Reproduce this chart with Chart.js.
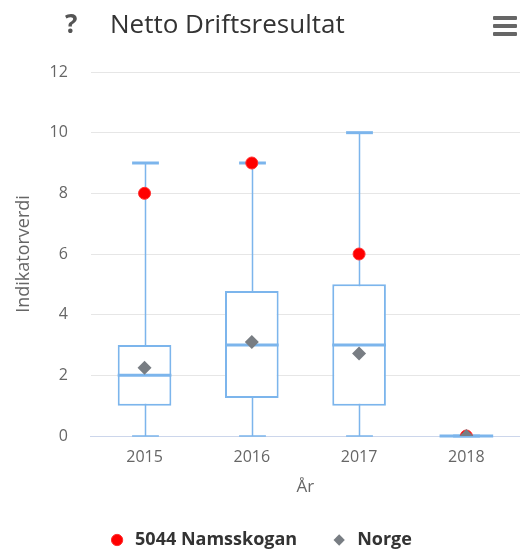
<!DOCTYPE html>
<html>
<head>
<meta charset="utf-8">
<title>Netto Driftsresultat</title>
<script src="https://cdn.jsdelivr.net/npm/chart.js@4.4.0/dist/chart.umd.min.js"></script>
<style>
  html, body { margin: 0; padding: 0; background: #fff; }
  #wrap { position: relative; width: 520px; height: 550px; font-family: 'Open Sans', sans-serif; }
  #chart { position: absolute; left: 0; top: 0; }
  .help { position: absolute; left: 65px; top: 10px; font-size: 26px; line-height: 26px; font-weight: bold; color: #555; }
  .title { position: absolute; left: 110px; top: 10px; font-size: 26px; line-height: 26px; color: #333; white-space: nowrap; }
  .menu { position: absolute; left: 493px; width: 24px; height: 4px; background: #666; border-radius: 1px; }
</style>
</head>
<body>
<div id="wrap">
  <canvas id="chart" width="520" height="550"></canvas>
  <div class="help">?</div>
  <div class="title">Netto Driftsresultat</div>
  <div class="menu" style="top:16px"></div>
  <div class="menu" style="top:24px"></div>
  <div class="menu" style="top:32px"></div>
</div>
<script>
const years = ['2015', '2016', '2017', '2018'];
const whiskerLow = [0, 0, 0, 0];
const quartileLow = [1, 1.25, 1, 0];
const medians = [2, 3, 3, 0];
const quartileHigh = [3, 4.78, 5, 0];
const whiskerHigh = [9, 9, 10, 0];
const namsskogan = [8, 9, 6, 0];
const norge = [2.25, 3.1, 2.72, 0];

const boxColor = '#7cb5ec';

// stems and caps go under the boxes, medians on top of them
const boxWhiskers = {
  id: 'boxWhiskers',
  beforeDatasetsDraw(chart) {
    const { ctx, scales: { x, y } } = chart;
    const bars = chart.getDatasetMeta(0).data;
    ctx.save();
    ctx.strokeStyle = boxColor;
    years.forEach((yr, i) => {
      const cx = Math.round(x.getPixelForValue(i)) + 0.5;
      const half = bars[i].width / 4;
      const lo = y.getPixelForValue(whiskerLow[i]);
      const hi = y.getPixelForValue(whiskerHigh[i]);
      ctx.lineWidth = 1.5;
      ctx.beginPath();
      ctx.moveTo(cx, lo);
      ctx.lineTo(cx, hi);
      ctx.moveTo(cx - half, lo);
      ctx.lineTo(cx + half, lo);
      ctx.stroke();
      ctx.lineWidth = 3;
      ctx.beginPath();
      ctx.moveTo(cx - half, hi);
      ctx.lineTo(cx + half, hi);
      ctx.stroke();
    });
    ctx.restore();
  },
  afterDatasetDraw(chart, args) {
    if (args.index !== 0) return;
    const { ctx, scales: { x, y } } = chart;
    const bars = chart.getDatasetMeta(0).data;
    ctx.save();
    ctx.strokeStyle = boxColor;
    ctx.lineWidth = 3;
    years.forEach((yr, i) => {
      const cx = x.getPixelForValue(i);
      const half = bars[i].width / 2;
      const my = y.getPixelForValue(medians[i]);
      ctx.beginPath();
      ctx.moveTo(cx - half, my);
      ctx.lineTo(cx + half, my);
      ctx.stroke();
    });
    ctx.restore();
  }
};

const tickFont = { family: "'Open Sans', sans-serif", size: 16 };

new Chart(document.getElementById('chart'), {
  type: 'bar',
  data: {
    labels: years,
    datasets: [
      {
        label: 'Boks',
        data: years.map((yr, i) => [quartileLow[i], quartileHigh[i]]),
        backgroundColor: '#ffffff',
        borderColor: boxColor,
        borderWidth: 2,
        borderSkipped: false,
        barPercentage: 0.5,
        categoryPercentage: 1,
        order: 3
      },
      {
        type: 'line',
        label: '5044 Namsskogan',
        data: namsskogan,
        showLine: false,
        pointStyle: 'circle',
        pointRadius: 6,
        pointHoverRadius: 6,
        pointBorderWidth: 1,
        backgroundColor: '#ff0000',
        borderColor: '#ff3030',
        order: 2
      },
      {
        type: 'line',
        label: 'Norge',
        data: norge,
        showLine: false,
        pointStyle: 'rectRot',
        pointRadius: 7,
        pointHoverRadius: 7,
        pointBorderWidth: 0,
        backgroundColor: '#787d83',
        borderColor: '#787d83',
        order: 1
      }
    ]
  },
  options: {
    responsive: false,
    animation: false,
    layout: { autoPadding: false, padding: { top: 72, left: 0, right: 0, bottom: -9 } },
    plugins: {
      legend: {
        position: 'bottom',
        labels: {
          filter: item => item.datasetIndex > 0,
          sort: (a, b) => a.datasetIndex - b.datasetIndex,
          usePointStyle: true,
          boxWidth: 18,
          boxHeight: 8,
          padding: 33,
          color: '#333',
          font: { family: "'Open Sans', sans-serif", size: 18, weight: 'bold' }
        }
      },
      tooltip: { enabled: false }
    },
    scales: {
      x: {
        afterFit(scale) {
          scale.paddingLeft = 0;
          scale.paddingRight = 0;
        },
        grid: { display: false, drawTicks: false },
        border: { color: '#ccd6eb', width: 1 },
        ticks: { color: '#666', font: tickFont, padding: 12 },
        title: {
          display: true,
          text: 'År',
          color: '#666',
          font: { family: "'Open Sans', sans-serif", size: 17 },
          padding: { top: -2.4, bottom: 0.8 }
        }
      },
      y: {
        min: 0,
        max: 12,
        grid: { color: '#e6e6e6', drawTicks: false },
        border: { display: false },
        ticks: { stepSize: 2, color: '#666', font: tickFont, padding: 23 },
        title: {
          display: true,
          text: 'Indikatorverdi',
          color: '#666',
          font: { family: "'Open Sans', sans-serif", size: 18 },
          padding: { top: 13, bottom: -8 }
        }
      }
    }
  },
  plugins: [boxWhiskers]
});
</script>
</body>
</html>
